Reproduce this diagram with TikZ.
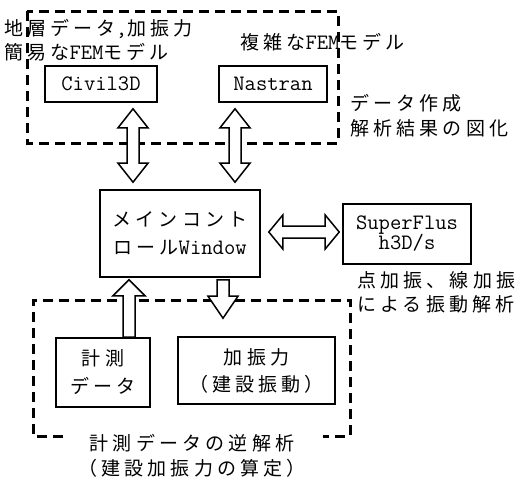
\documentclass[tikz,border=0pt]{standalone}
\usepackage{fontspec}
\setmainfont{Noto Sans CJK JP}[LetterSpace=22]
\newfontfamily\ltf{Latin Modern Mono}
\newcommand\lt{\ltf\fontsize{22}{28}\selectfont}
\usetikzlibrary{calc}
\def\arhw{15pt}\def\arsw{6pt}\def\arhl{19pt}
% vertical double block arrow between two tips
\newcommand\vdarrow[2]{\draw[blk] let \p1=(#1), \p2=(#2), \n1={sign(\y1-\y2)} in
 (\x1,\y1) -- (\x1+\arhw,\y1-\n1*\arhl) -- (\x1+\arsw,\y1-\n1*\arhl) -- (\x1+\arsw,\y2+\n1*\arhl) -- (\x1+\arhw,\y2+\n1*\arhl) -- (\x1,\y2) -- (\x1-\arhw,\y2+\n1*\arhl) -- (\x1-\arsw,\y2+\n1*\arhl) -- (\x1-\arsw,\y1-\n1*\arhl) -- (\x1-\arhw,\y1-\n1*\arhl) -- cycle;}
% horizontal double block arrow between two tips
\newcommand\hdarrow[2]{\draw[blk] let \p1=(#1), \p2=(#2), \n1={sign(\x2-\x1)} in
 (\x1,\y1) -- (\x1+\n1*\arhl,\y1+\arhw) -- (\x1+\n1*\arhl,\y1+\arsw) -- (\x2-\n1*\arhl,\y1+\arsw) -- (\x2-\n1*\arhl,\y1+\arhw) -- (\x2,\y1) -- (\x2-\n1*\arhl,\y1-\arhw) -- (\x2-\n1*\arhl,\y1-\arsw) -- (\x1+\n1*\arhl,\y1-\arsw) -- (\x1+\n1*\arhl,\y1-\arhw) -- cycle;}
% vertical single block arrow from tail #1 to tip #2
\newcommand\varrow[2]{\draw[blk] let \p1=(#1), \p2=(#2), \n1={sign(\y1-\y2)} in
 (\x2,\y2) -- (\x2+\arhw,\y2+\n1*\arhl) -- (\x2+\arsw,\y2+\n1*\arhl) -- (\x2+\arsw,\y1) -- (\x2-\arsw,\y1) -- (\x2-\arsw,\y2+\n1*\arhl) -- (\x2-\arhw,\y2+\n1*\arhl) -- cycle;}
\begin{document}
\begin{tikzpicture}[x=1pt,y=-1pt,
  box/.style={draw, line width=1.6pt, inner sep=0pt, align=center, font=\fontsize{19}{28}\selectfont},
  lbl/.style={inner sep=0pt, anchor=west, font=\fontsize{19}{24}\selectfont},
  dsh/.style={line width=3pt, dash pattern=on 10pt off 6pt},
  blk/.style={draw, fill=white, line width=1.5pt, line join=miter}]
\useasboundingbox (0,0) rectangle (529,482);

% dashed groups
\draw[dsh] (27,11) rectangle (338,143);
\draw[dsh] (63,436) -- (33,436) -- (33,300) -- (350,300) -- (350,436) -- (323,436);

% boxes
\node[box, minimum width=112pt, minimum height=36pt] (civil) at (101,84) {{\lt Civil3D}};
\node[box, minimum width=108pt, minimum height=36pt] (nastran) at (273,84) {{\lt Nastran}};
\node[box, minimum width=160pt, minimum height=87pt] (main) at (180,233.5) {メインコント\\ロール{\lt Window}};
\node[box, minimum width=128pt, minimum height=60pt, font=\fontsize{19}{21}\selectfont] (super) at (407,234) {{\lt SuperFlus}\\[-1pt]{\lt h3D/s}};
\node[box, minimum width=94pt, minimum height=69pt] (keisoku) at (103,372.5) {計測\\データ};
\node[box, minimum width=157pt, minimum height=67pt, font=\fontsize{19}{27}\selectfont] (kashin) at (256.5,370.5) {加振力\\（建設振動）};

% labels
\node[lbl] (t1) at (4,29) {地層データ{\lt ,}加振力};
\node[lbl] (t2) at (4,52) {簡易な{\lt FEM}モデル};
\node[lbl] (t3) at (240,42) {複雑な{\lt FEM}モデル};
\node[lbl] (t4) at (350,103) {データ作成};
\node[lbl] (t5) at (350,128) {解析結果の図化};
\node[lbl] (t6) at (357,280) {点加振、線加振};
\node[lbl] (t7) at (357,304) {による振動解析};
\node[inner sep=0pt, font=\fontsize{19}{25}\selectfont, align=center] (t8) at (192,455.5) {計測データの逆解析\\（建設加振力の算定）};

% arrow axes
\coordinate (ax1) at (133,0);
\coordinate (ax2) at (235,0);
\coordinate (ax3) at (129,0);
\coordinate (ax4) at (223,0);

% connectors
\vdarrow{$(civil.south -| ax1)+(0,6)$}{$(main.north -| ax1)+(0,-7)$}
\vdarrow{$(nastran.south -| ax2)+(0,6)$}{$(main.north -| ax2)+(0,-7)$}
{\def\arhw{17pt}\def\arhl{14pt}\hdarrow{$(main.east)+(8,-1.5)$}{$(super.west |- main.east)+(-3,-1.5)$}}
{\def\arhw{16pt}\def\arhl{16pt}\varrow{keisoku.north -| ax3}{$(main.south -| ax3)+(0,2)$}}
{\def\arhl{22pt}\varrow{$(main.south -| ax4)+(0,2)$}{$(kashin.north -| ax4)+(0,-18)$}}
\end{tikzpicture}
\end{document}
